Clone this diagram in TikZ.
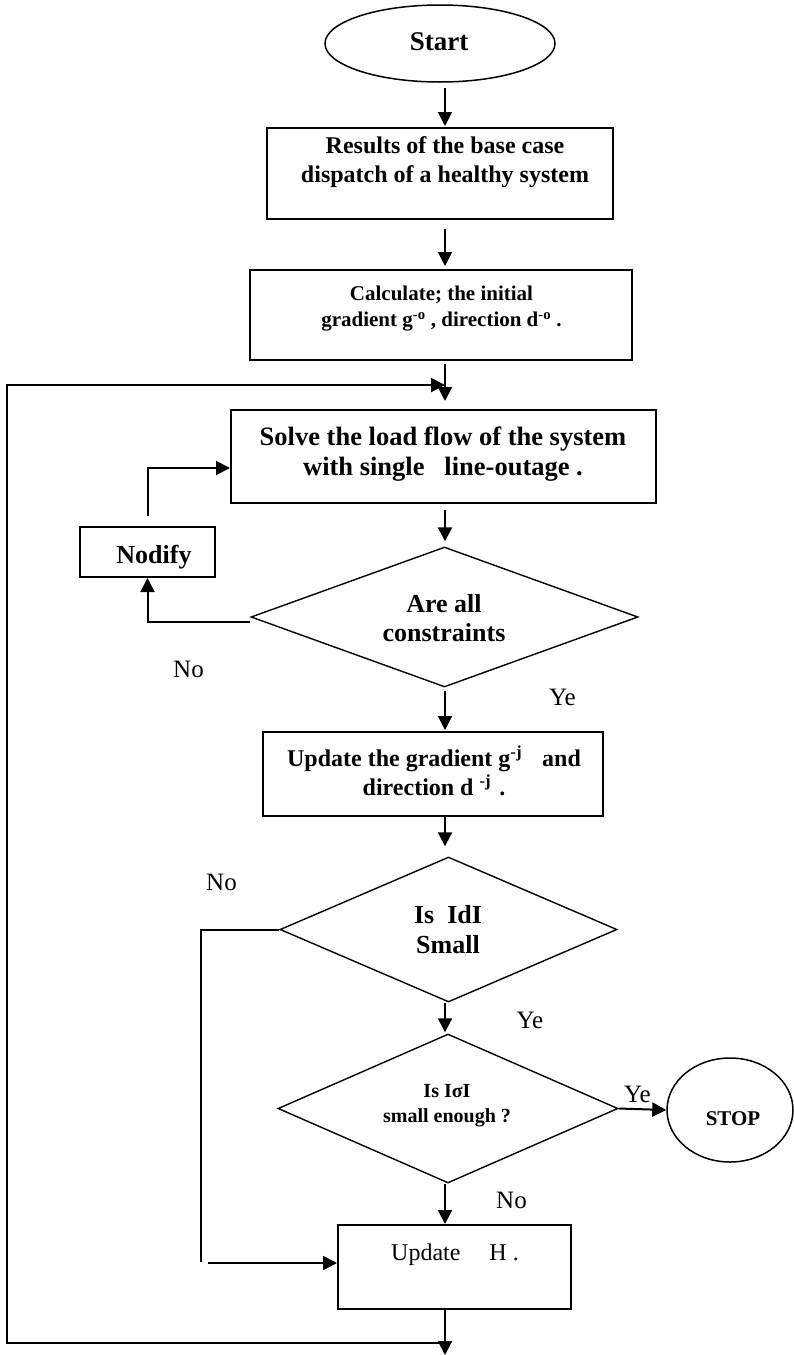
\documentclass[tikz,border=0pt]{standalone}
\usepackage{fontspec}
\setmainfont{Liberation Serif}
\usetikzlibrary{shapes.geometric,arrows.meta,calc}
\newcommand{\mytwo}[2]{\begin{tabular}[t]{@{}c@{}}#1\\#2\end{tabular}}
\begin{document}
\begin{tikzpicture}[x=1pt,y=-1pt,
  box/.style={draw,line width=2pt,rectangle,inner sep=0pt},
  dia/.style={draw,line width=1.4pt,diamond,inner sep=0pt},
  ell/.style={draw,line width=1.5pt,ellipse,inner sep=0pt},
  txt/.style={anchor=base,inner sep=0pt},
  lbl/.style={anchor=base,inner sep=0pt,font=\fontsize{25}{25}\selectfont},
  arr/.style={line width=2pt,-{Triangle[length=14pt,width=14pt]}},
  ln/.style={line width=2pt}
]
\useasboundingbox (0,0) rectangle (793,1355);
\coordinate (ax) at (445,0);

% shapes
\node[ell,minimum width=230pt,minimum height=77pt] (start) at (440,43.5) {};
\node[txt,font=\bfseries\fontsize{27}{27}\selectfont] (startT) at (439,50) {Start};

\node[box,minimum width=346pt,minimum height=91pt] (res) at (440,173.5) {};
\node[txt,font=\bfseries\fontsize{24}{29}\selectfont] (resT) at (445,153) {\mytwo{Results of the base case}{dispatch of a healthy system}};

\node[box,minimum width=382pt,minimum height=90pt] (calc) at (441,315) {};
\node[txt,font=\bfseries\fontsize{21}{26}\selectfont] (calcT) at (441.5,300.7) {\mytwo{Calculate; the initial}{gradient g\textsuperscript{-o} , direction d\textsuperscript{-o} .}};

\node[box,minimum width=425pt,minimum height=93pt] (solve) at (443.5,456.5) {};
\node[txt,font=\bfseries\fontsize{26.5}{30}\selectfont] (solveT) at (443,445) {\mytwo{Solve the load flow of the system}{with single\ \ \ line-outage .}};

\node[box,minimum width=135pt,minimum height=50pt] (nod) at (147.5,552) {};
\node[txt,font=\bfseries\fontsize{26}{26}\selectfont] (nodT) at (154,563) {Nodify};

\node[dia,minimum width=387pt,minimum height=140pt] (are) at (444.5,617) {};
\node[txt,font=\bfseries\fontsize{26}{29}\selectfont] (areT) at (444,612.7) {\mytwo{Are all}{constraints}};

\node[box,minimum width=340pt,minimum height=84pt] (upd) at (433,774) {};
\node[txt,font=\bfseries\fontsize{24}{26}\selectfont] (updT) at (434,766.7) {\mytwo{Update the gradient g\textsuperscript{-j}\hspace{20pt}and}{direction d \textsuperscript{-j}\hspace{8pt}.}};

\node[dia,minimum width=337pt,minimum height=145pt] (isd) at (448.5,929.5) {};
\node[txt,font=\bfseries\fontsize{26}{30}\selectfont] (isdT) at (448,923) {\mytwo{Is\ \ IdI}{Small}};

\node[dia,minimum width=340pt,minimum height=149pt] (iss) at (448,1108.5) {};
\node[txt,font=\bfseries\fontsize{20}{25}\selectfont] (issT) at (447,1097) {\mytwo{Is IσI}{small enough ?}};

\node[ell,minimum width=126pt,minimum height=104pt] (stop) at (730,1110) {};
\node[txt,font=\bfseries\fontsize{21}{21}\selectfont] (stopT) at (733,1125) {STOP};

\node[box,minimum width=233pt,minimum height=84pt] (updH) at (454.5,1267) {};
\node[txt,font=\fontsize{24}{24}\selectfont] (updHT) at (455,1260) {Update\hspace{29pt}H .};

% labels
\node[lbl] (no1) at (188.5,677) {No};
\node[lbl] (ye1) at (562.5,705) {Ye};
\node[lbl] (no2) at (221.5,890) {No};
\node[lbl] (ye2) at (530,1028) {Ye};
\node[lbl] (ye3) at (637.5,1102) {Ye};
\node[lbl] (no3) at (511.5,1208) {No};

% coordinates
\coordinate (c1) at (201,1262);
\coordinate (c2) at (208,1263);
\coordinate (bot) at (445,1355);
\coordinate (lb) at (439,1343);
\coordinate (lbl) at (7,1343);
\coordinate (ltl) at (7,385);
\coordinate (lt) at (445,385);

% connectors
\draw[arr,shorten <=5pt,shorten >=1pt] (start.south -| ax) -- (res.north -| ax);
\draw[arr,shorten <=9pt,shorten >=3pt] (res.south -| ax) -- (calc.north -| ax);
\draw[arr,shorten <=3pt,shorten >=8pt] (calc.south -| ax) -- (solve.north -| ax);
\draw[arr] (lb) -- (lbl) -- (ltl) -- (lt);
\draw[arr,shorten <=6pt,shorten >=5pt] (solve.south -| ax) -- (are.north -| ax);
\draw[arr] ([yshift=-5pt]are.west) -| (nod.south);
\draw[arr,shorten <=10pt] (nod.north) |- ([yshift=-11.5pt]solve.west);
\draw[arr,shorten <=3pt,shorten >=1pt] (are.south -| ax) -- (upd.north -| ax);
\draw[arr,shorten >=10pt] (upd.south -| ax) -- (isd.north -| ax);
\draw[ln] (isd.west) -| (c1);
\draw[arr] (c2) -- (updH.west |- c2);
\draw[arr,shorten >=1pt] (isd.south -| ax) -- (iss.north -| ax);
\draw[arr] (iss.east) -- (stop.west);
\draw[arr] (iss.south -| ax) -- (updH.north -| ax);
\draw[arr] (updH.south -| ax) -- (bot);
\end{tikzpicture}
\end{document}
